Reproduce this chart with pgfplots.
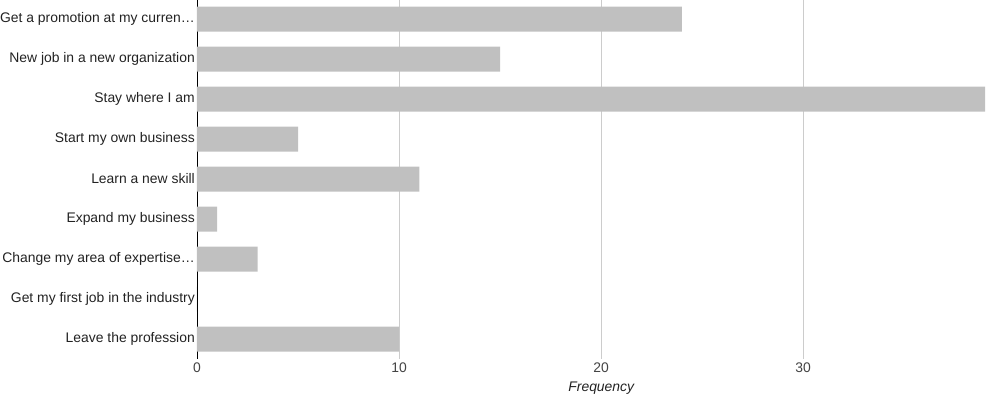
\documentclass[border=0pt]{standalone}
\usepackage{fontspec}
\setmainfont{Liberation Sans}
\usepackage{pgfplots}
\pgfplotsset{compat=1.18}
\definecolor{barc}{RGB}{192,192,192}
\definecolor{gridc}{RGB}{204,204,204}
\definecolor{txtc}{RGB}{34,34,34}
\definecolor{tickc}{RGB}{68,68,68}
\begin{document}
\fontsize{14pt}{16pt}\selectfont
\begin{tikzpicture}
\path[use as bounding box] (-197pt,-39pt) rectangle (805pt,359pt);
\begin{axis}[
  at={(0pt,0pt)}, anchor=south west,
  scale only axis, width=788pt, height=360pt,
  xbar, bar width=25pt,
  xmin=0, xmax=39,
  ymin=-0.5, ymax=8.5, y dir=reverse,
  ytick={0,...,8},
  yticklabels={Get a promotion at my curren…,New job in a new organization,Stay where I am,Start my own business,Learn a new skill,Expand my business,Change my area of expertise…,Get my first job in the industry,Leave the profession},
  xtick={0,10,20,30},
  xmajorgrids, grid style={gridc, line width=0.8pt},
  major tick length=0pt,
  axis lines*=left,
  x axis line style={draw=none},
  y axis line style={draw=black, line width=0.8pt, -},
  yticklabel style={anchor=east, inner sep=0pt, xshift=-2pt, text=txtc, font=\fontsize{13.9pt}{16pt}\selectfont},
  xticklabel style={anchor=north, inner sep=0pt, yshift=-4pt, text=tickc, font=\fontsize{13.9pt}{16pt}\selectfont},
  /pgf/number format/assume math mode=true,
  xlabel={Frequency},
  xlabel style={at={(axis description cs:0.513,0)}, anchor=north, inner sep=0pt, yshift=-23pt, text=txtc, font=\fontsize{13.9pt}{16pt}\selectfont\itshape},
  clip=false,
]
\addplot[fill=barc, draw=none] coordinates {
  (24,0) (15,1) (39,2) (5,3) (11,4) (1,5) (3,6) (0,7) (10,8)
};
\end{axis}
\end{tikzpicture}
\end{document}
